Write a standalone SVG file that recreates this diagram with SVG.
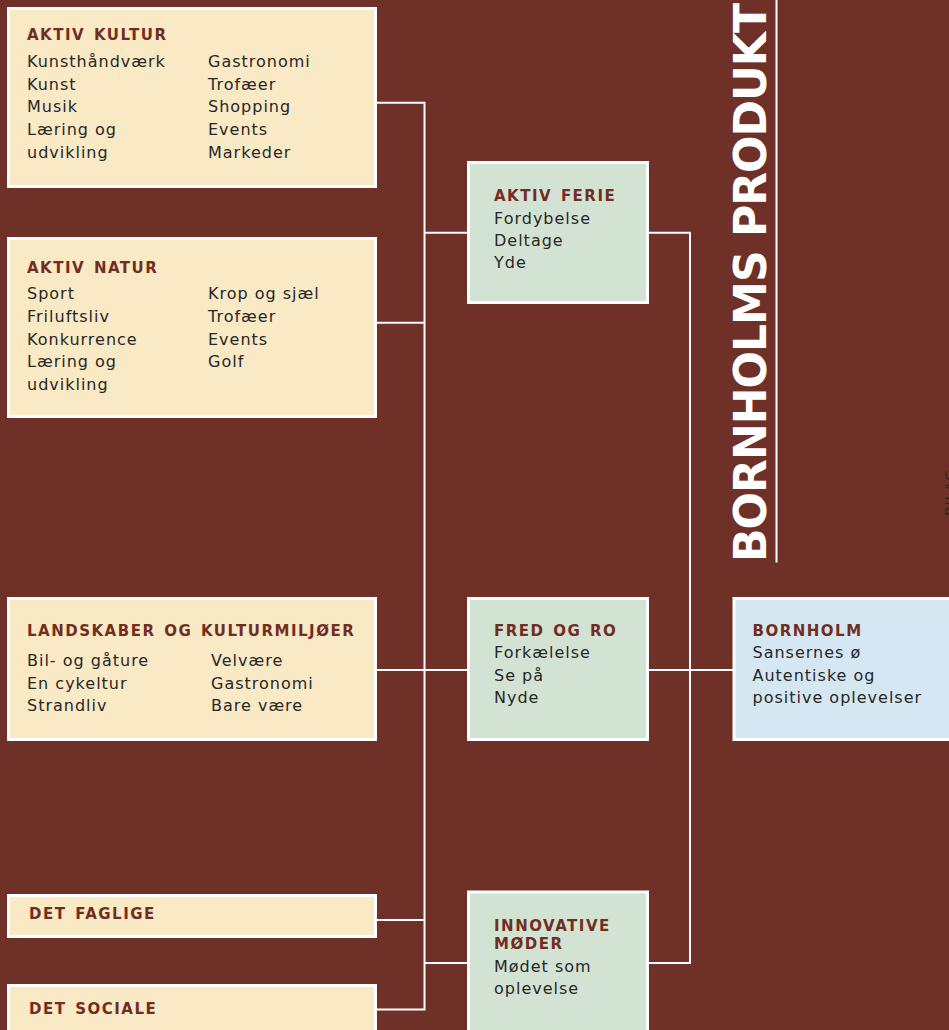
<svg xmlns="http://www.w3.org/2000/svg" width="949" height="1030" viewBox="0 0 949 1030">
<style>
.bg{fill:#6f3027}
.cream{fill:#f9e9c4;stroke:#ffffff;stroke-width:3}
.green{fill:#d3e3d3;stroke:#ffffff;stroke-width:3}
.blue{fill:#d4e7f2;stroke:#ffffff;stroke-width:3}
.t{font-family:"DejaVu Sans",Verdana,sans-serif;font-weight:bold;font-size:15px;letter-spacing:1.5px;word-spacing:2px;fill:#722d22}
.b{font-family:"DejaVu Sans",Verdana,sans-serif;font-size:16px;letter-spacing:1px;fill:#272727}
.conn{fill:none;stroke:#ffffff;stroke-width:2}
.head{font-family:"DejaVu Sans",Verdana,sans-serif;font-weight:bold;font-size:44px;fill:#ffffff}
.bilag{font-family:"DejaVu Sans",Verdana,sans-serif;font-size:14px;letter-spacing:1px;fill:#2e2420}
</style>
<rect class="bg" x="0" y="0" width="949" height="1030"/>

<g id="title">
<text class="head" transform="translate(766,562) rotate(-90)" textLength="559" lengthAdjust="spacing">BORNHOLMS PRODUKT</text>
<line x1="776.5" y1="0" x2="776.5" y2="562.5" stroke="#ffffff" stroke-width="2"/>
<text class="bilag" transform="translate(955,516) rotate(-90)">BILAG</text>
</g>

<g id="connectors">
<path class="conn" d="M377 102.7 H424.5 V1009.5 H377"/>
<path class="conn" d="M377 322.7 H424.5"/>
<path class="conn" d="M377 670 H467"/>
<path class="conn" d="M377 920 H424.5"/>
<path class="conn" d="M424.5 232.7 H467"/>
<path class="conn" d="M424.5 963 H467"/>
<path class="conn" d="M649 232.7 H690 V963 H649"/>
<path class="conn" d="M649 670 H733"/>
</g>

<g id="aktiv-kultur">
<rect class="cream" x="8.5" y="8.5" width="367" height="178"/>
<text class="t" x="27" y="40">AKTIV KULTUR</text>
<text class="b" x="27" y="67">Kunsthåndværk</text>
<text class="b" x="27" y="90">Kunst</text>
<text class="b" x="27" y="112">Musik</text>
<text class="b" x="27" y="135">Læring og</text>
<text class="b" x="27" y="158">udvikling</text>
<text class="b" x="208" y="67">Gastronomi</text>
<text class="b" x="208" y="90">Trofæer</text>
<text class="b" x="208" y="112">Shopping</text>
<text class="b" x="208" y="135">Events</text>
<text class="b" x="208" y="158">Markeder</text>
</g>

<g id="aktiv-natur">
<rect class="cream" x="8.5" y="238.5" width="367" height="178"/>
<text class="t" x="27" y="273">AKTIV NATUR</text>
<text class="b" x="27" y="299">Sport</text>
<text class="b" x="27" y="322">Friluftsliv</text>
<text class="b" x="27" y="345">Konkurrence</text>
<text class="b" x="27" y="367">Læring og</text>
<text class="b" x="27" y="390">udvikling</text>
<text class="b" x="208" y="299">Krop og sjæl</text>
<text class="b" x="208" y="322">Trofæer</text>
<text class="b" x="208" y="345">Events</text>
<text class="b" x="208" y="367">Golf</text>
</g>

<g id="landskaber">
<rect class="cream" x="8.5" y="598.5" width="367" height="141"/>
<text class="t" x="27" y="636">LANDSKABER OG KULTURMILJØER</text>
<text class="b" x="27" y="666">Bil- og gåture</text>
<text class="b" x="27" y="689">En cykeltur</text>
<text class="b" x="27" y="711">Strandliv</text>
<text class="b" x="211" y="666">Velvære</text>
<text class="b" x="211" y="689">Gastronomi</text>
<text class="b" x="211" y="711">Bare være</text>
</g>

<g id="det-faglige">
<rect class="cream" x="8.5" y="895.5" width="367" height="41"/>
<text class="t" x="29" y="919">DET FAGLIGE</text>
</g>

<g id="det-sociale">
<rect class="cream" x="8.5" y="985.5" width="367" height="50"/>
<text class="t" x="29" y="1014">DET SOCIALE</text>
</g>

<g id="aktiv-ferie">
<rect class="green" x="468.5" y="162.5" width="179" height="140"/>
<text class="t" x="494" y="201">AKTIV FERIE</text>
<text class="b" x="494" y="224">Fordybelse</text>
<text class="b" x="494" y="246">Deltage</text>
<text class="b" x="494" y="268">Yde</text>
</g>

<g id="fred-og-ro">
<rect class="green" x="468.5" y="598.5" width="179" height="141"/>
<text class="t" x="494" y="636">FRED OG RO</text>
<text class="b" x="494" y="658">Forkælelse</text>
<text class="b" x="494" y="681">Se på</text>
<text class="b" x="494" y="703">Nyde</text>
</g>

<g id="innovative-moeder">
<rect class="green" x="468.5" y="892" width="179" height="150"/>
<text class="t" x="494" y="931">INNOVATIVE</text>
<text class="t" x="494" y="949">MØDER</text>
<text class="b" x="494" y="972">Mødet som</text>
<text class="b" x="494" y="994">oplevelse</text>
</g>

<g id="bornholm">
<rect class="blue" x="734" y="598.5" width="230" height="141"/>
<text class="t" x="752.5" y="636">BORNHOLM</text>
<text class="b" x="752.5" y="658">Sansernes ø</text>
<text class="b" x="752.5" y="681">Autentiske og</text>
<text class="b" x="752.5" y="703">positive oplevelser</text>
</g>
</svg>
